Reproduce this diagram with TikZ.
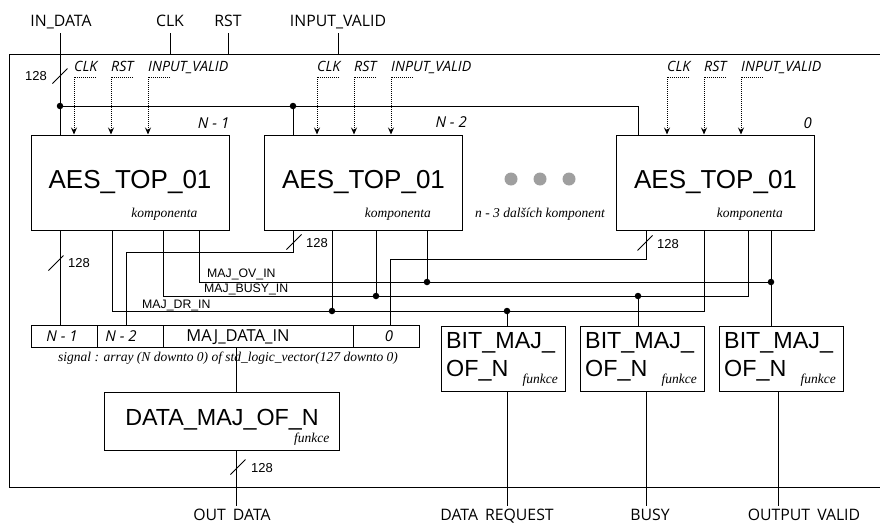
\documentclass[tikz,border=0pt]{standalone}
\usepackage{fontspec}
\setmainfont{Liberation Sans}
\newfontfamily\osans{Open Sans}
\newfontfamily\tms{Liberation Serif}
\usepackage{tikz}
\usetikzlibrary{arrows.meta,positioning,backgrounds}

\begin{document}
\begin{tikzpicture}[
  x=1pt, y=-1pt,
  comp/.style={
    draw,
    fill=white,
    line width=1pt,
    minimum width=198pt,
    minimum height=95pt,
    inner sep=0pt,
    font=\fontsize{26}{30}\selectfont
  },
  func/.style={draw, fill=white, line width=1pt, inner sep=0pt},
  bigtext/.style={font=\fontsize{23.3}{28}\selectfont, inner sep=0pt},
  wire/.style={line width=1pt},
  ctrl/.style={dash pattern=on 1pt off 1pt, line width=0.9pt, -{Stealth[length=7pt,width=6pt,inset=2.5pt]}},
  buslabel/.style={font=\fontsize{13}{15}\selectfont, inner sep=0pt},
  wirelabel/.style={font=\fontsize{12.3}{15}\selectfont, inner sep=0pt},
  tag/.style={font=\tms\itshape\fontsize{13.5}{15}\selectfont, inner sep=0pt},
  idx/.style={font=\osans\itshape\fontsize{15}{17}\selectfont, inner sep=0pt},
  sig/.style={font=\osans\itshape\fontsize{14.2}{16}\selectfont, inner sep=0pt},
  port/.style={font=\osans\fontsize{15.8}{18}\selectfont, inner sep=0pt},
  junc/.style={circle, fill, inner sep=0pt, minimum size=6.5pt},
  cell/.style={draw, line width=1pt, minimum height=22pt, inner sep=0pt, outer sep=0pt}
]
\useasboundingbox (0,0) rectangle (880,525);
\clip (0,0) rectangle (880,525);
\def\YTOP{54}
\def\YBOT{487}
\def\YOV{282}
\def\YBUSY{296}
\def\YDR{311}

% ports
\node[port, anchor=base] (indata) at (61,26) {IN\_DATA};
\node[port, anchor=base] (clk) at (170,26) {CLK};
\node[port, anchor=base] (rst) at (228,26) {RST};
\node[port, anchor=base] (ivalid) at (338,26) {INPUT\_VALID};
\node[port, anchor=base] (outdata) at (232,520) {OUT\ \kern3pt DATA};
\node[port, anchor=base] (dreq) at (497,520) {DATA\ \kern3pt REQUEST};
\node[port, anchor=base] (busy) at (650,520) {BUSY};
\node[port, anchor=base] (ovalid) at (804,520) {OUTPUT\ \kern3pt VALID};

% components
\node[comp] (aes1) at (130,182.5) {AES\_TOP\_01};
\node[comp] (aes2) at (363.5,182.5) {AES\_TOP\_01};
\node[comp] (aes3) at (715.5,182.5) {AES\_TOP\_01};
\node[idx, anchor=base east] (i1) at ([yshift=6pt]aes1.north east) {N - 1};
\node[idx, anchor=base east] (i2) at ([xshift=4pt,yshift=7pt]aes2.north east) {N - 2};
\node[idx, anchor=base east] (i3) at ([xshift=-3pt,yshift=6pt]aes3.north east) {0};
\foreach \b in {aes1,aes2,aes3}
  \node[tag, anchor=base east] (k-\b) at ([xshift=-32pt,yshift=13pt]\b.south east) {komponenta};
\foreach \x [count=\i] in {511,540,569}
  \node[circle, fill=gray!75, minimum size=13pt, inner sep=0pt] (dot\i) at (\x,179) {};
\node[tag, anchor=base] (more) at (540,217) {n - 3 dalších komponent};

% array signal
\node[cell, minimum width=66pt, anchor=north west] (c1) at (31,325) {};
\node[cell, minimum width=66pt, right=0pt of c1] (c2) {};
\node[cell, minimum width=190pt, right=0pt of c2] (c3) {};
\node[cell, minimum width=66pt, right=0pt of c3] (c4) {};
\node[idx, anchor=base] (c1-t) at (62,341) {N - 1};
\node[idx, anchor=base] (c2-t) at (121,341) {N - 2};
\node[port, font=\osans\fontsize{16.5}{18}\selectfont, anchor=base] (c3-t) at (238,341) {MAJ\_DATA\_IN};
\node[idx, anchor=base] (c4-t) at (389,341) {0};
\node[tag, anchor=base] (caption) at (228,361) {signal : array (N downto 0) of std\_logic\_vector(127 downto 0)};

% majority functions
\node[func, minimum width=235pt, minimum height=58pt] (dmaj) at (221.5,421) {};
\node[bigtext, anchor=base] (dmaj-t) at (222,425) {DATA\_MAJ\_OF\_N};
\node[tag, anchor=base east] (dmaj-f) at ([xshift=-10pt,yshift=8pt]dmaj.south east) {funkce};
\foreach \x [count=\i] in {441,580,719}{
  \node[func, minimum width=124pt, minimum height=65pt, anchor=north west] (bit\i) at (\x,326) {};
  \node[bigtext, anchor=base west] (bt\i) at (\x+5,348) {BIT\_MAJ\_};
  \node[bigtext, anchor=base west] (bb\i) at (\x+5,376) {OF\_N};
  \node[tag, anchor=base east] (bf\i) at ([xshift=-8pt,yshift=9pt]bit\i.south east) {funkce};
}

\begin{scope}[on background layer]
% outer frame
\draw[wire] (884,\YTOP) -- (9,\YTOP) -- (9,\YBOT) -- (884,\YBOT);

% control inputs
\foreach \b/\x in {aes1/74,aes2/317,aes3/667}{
  \foreach \s [count=\i from 0] in {CLK,RST,INPUT\_VALID}{
    \pgfmathsetmacro\xs{\x+37*\i}
    \node[sig, anchor=base west] (s-\b-\i) at (\xs,71) {\s};
    \draw[ctrl] (\xs+22,77) -- (\xs,77) -- (\b.north -| \xs,0);
  }
}

% data input bus
\draw[wire] (60,33) -- (aes1.north -| 60,0);
\draw[wire] (60,106) -- (638,106) -- (aes3.north -| 638,0);
\draw[wire] (293,106) -- (aes2.north -| 293,0);
\foreach \p in {clk,rst,ivalid}
  \draw[wire] (\p.base) ++(0,7) -- (\p.base |- 0,\YTOP);

% data outputs to the array
\draw[wire] (aes1.south -| 60,0) -- (c1.north -| 60,0);
\draw[wire] (aes2.south -| 293,0) -- (293,252) -- (126,252) -- (c2.north -| 126,0);
\draw[wire] (aes3.south -| 646,0) -- (646,259) -- (390,259) -- (c4.north -| 390,0);

% status lines
\draw[wire] (aes1.south -| 112,0) -- (112,\YDR) -- (704,\YDR) -- (aes3.south -| 704,0);
\draw[wire] (aes1.south -| 163,0) -- (163,\YBUSY) -- (748,\YBUSY) -- (aes3.south -| 748,0);
\draw[wire] (aes1.south -| 199,0) -- (199,\YOV) -- (771,\YOV);
\draw[wire] (aes3.south -| 771,0) -- (bit3.north -| 771,0);
\draw[wire] (aes2.south -| 332,0) -- (332,\YDR);
\draw[wire] (aes2.south -| 376,0) -- (376,\YBUSY);
\draw[wire] (aes2.south -| 427,0) -- (427,\YOV);
\draw[wire] (507,\YDR) -- (bit1.north -| 507,0);
\draw[wire] (638,\YBUSY) -- (bit2.north -| 638,0);

% outputs
\draw[wire] (c3.south -| 236,0) -- (dmaj.north -| 236,0);
\draw[wire] (dmaj.south -| 236,0) -- (236,506);
\draw[wire] (bit1.south -| 507,0) -- (507,506);
\draw[wire] (bit2.south -| 646,0) -- (646,506);
\draw[wire] (bit3.south -| 778,0) -- (778,506);
\end{scope}

\node[wirelabel, anchor=base west] (lov) at (207,277) {MAJ\_OV\_IN};
\node[wirelabel, anchor=base west] (lbusy) at (204,292) {MAJ\_BUSY\_IN};
\node[wirelabel, anchor=base west] (ldr) at (142,308) {MAJ\_DR\_IN};

% junctions
\foreach \p [count=\i] in {(60,106),(293,106),(332,\YDR),(376,\YBUSY),(427,\YOV),(507,\YDR),(638,\YBUSY),(771,\YOV)}
  \node[junc] (j\i) at \p {};

% bus widths
\foreach \x/\y in {60/76,56/263,294/242,645/243,238/467}
  \draw[wire] (\x-7.5,\y+7.5) -- (\x+7.5,\y-7.5);
\node[buslabel, anchor=base east] (w0) at (47,80) {128};
\node[buslabel, anchor=base west] (w1) at (68,267) {128};
\node[buslabel, anchor=base west] (w2) at (306,247) {128};
\node[buslabel, anchor=base west] (w3) at (657,248) {128};
\node[buslabel, anchor=base west] (w4) at (251,472) {128};
\end{tikzpicture}
\end{document}
